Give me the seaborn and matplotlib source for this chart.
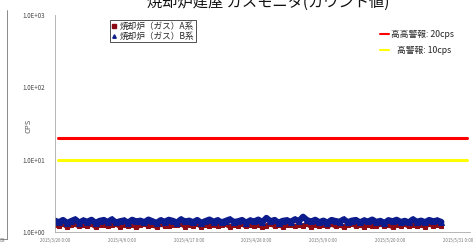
import seaborn as sns
import matplotlib.pyplot as plt
import matplotlib.lines as mlines
import pandas as pd

# データ
title = "焼却炉建屋 ガスモニタ(カウント値)"
series_names = ["焼却炉（ガス）A系", "焼却炉（ガス）B系"]
alarm_names = ["高高警報: 20cps", "   高警報: 10cps"]
alarm_levels = [20, 10]
y_ticks = [1, 10, 100, 1000]
y_tick_labels = ["1.0E+00", "1.0E+01", "1.0E+02", "1.0E+03"]
x_ticks = ["2015-03-26", "2015-04-06", "2015-04-17", "2015-04-28",
           "2015-05-09", "2015-05-20", "2015-05-31"]
x_tick_labels = ["2015/3/26 0:00", "2015/4/6 0:00", "2015/4/17 0:00", "2015/4/28 0:00",
                 "2015/5/9 0:00", "2015/5/20 0:00", "2015/5/31 0:00"]
start = "2015-03-26 00:00"
line_start = "2015-03-26 12:00"
line_end = "2015-06-01 12:00"
end = "2015-06-02 00:00"

cps_a = [1.26, 1.21, 1.30, 1.18, 1.24, 1.28, 1.20, 1.25, 1.22, 1.29, 1.18, 1.25,
         1.27, 1.20, 1.24, 1.29, 1.19, 1.26, 1.22, 1.27, 1.17, 1.24, 1.29, 1.21,
         1.25, 1.18, 1.28, 1.23, 1.20, 1.27, 1.24, 1.30, 1.19, 1.25, 1.22, 1.29,
         1.18, 1.26, 1.22, 1.27, 1.20, 1.24, 1.29, 1.18, 1.25, 1.23, 1.28, 1.20,
         1.25, 1.21, 1.27, 1.17, 1.23, 1.29, 1.22, 1.26, 1.19, 1.24, 1.27, 1.20,
         1.25, 1.22, 1.30, 1.18, 1.27, 1.23, 1.25, 1.20, 1.28, 1.21, 1.26, 1.18,
         1.24, 1.29, 1.22, 1.25, 1.19, 1.27, 1.23, 1.20, 1.29, 1.22, 1.25, 1.18,
         1.27, 1.23, 1.28, 1.20, 1.24, 1.21, 1.26, 1.19, 1.29, 1.22, 1.25, 1.20]
cps_b = [1.44, 1.37, 1.47, 1.34, 1.42, 1.50, 1.35, 1.45, 1.39, 1.48, 1.34, 1.43,
         1.47, 1.38, 1.50, 1.36, 1.41, 1.45, 1.35, 1.48, 1.40, 1.44, 1.37, 1.49,
         1.41, 1.34, 1.46, 1.39, 1.48, 1.43, 1.35, 1.50, 1.40, 1.44, 1.37, 1.47,
         1.34, 1.42, 1.49, 1.39, 1.46, 1.36, 1.43, 1.50, 1.38, 1.41, 1.47, 1.35,
         1.45, 1.40, 1.49, 1.37, 1.57, 1.41, 1.47, 1.35, 1.43, 1.46, 1.39, 1.50,
         1.42, 1.63, 1.46, 1.40, 1.48, 1.37, 1.44, 1.35, 1.47, 1.42, 1.39, 1.50,
         1.37, 1.44, 1.47, 1.36, 1.45, 1.40, 1.49, 1.38, 1.43, 1.34, 1.46, 1.41,
         1.48, 1.38, 1.43, 1.36, 1.50, 1.39, 1.44, 1.37, 1.47, 1.41, 1.45, 1.38]

colors = ["#8b0a14", "#0c1c8c"]
markers = ["s", "^"]
alarm_colors = ["#ff0000", "#ffff00"]

sns.set_style("white")
plt.rcParams["font.family"] = ["Noto Sans CJK JP", "DejaVu Sans"]

fig = plt.figure(figsize=(4.77, 2.43), dpi=100)
ax = fig.add_axes([0.115, 0.045, 0.87, 0.893])

# 測定値
for vals, c, m, lw, ms in zip([cps_a, cps_b], colors, markers, [3.4, 4.4], [3.4, 4.0]):
    df = pd.DataFrame({"t": pd.date_range(start, periods=len(vals), freq="16h"), "cps": vals})
    sns.lineplot(data=df, x="t", y="cps", ax=ax, color=c, marker=m, markersize=ms,
                 markeredgecolor=c, linewidth=lw, legend=False)

# 警報レベル
for lvl, c in zip(alarm_levels, alarm_colors):
    df = pd.DataFrame({"t": [pd.Timestamp(line_start), pd.Timestamp(line_end)],
                       "cps": [lvl, lvl]})
    sns.lineplot(data=df, x="t", y="cps", ax=ax, color=c, linewidth=2.2, legend=False)

ax.set_yscale("log")
ax.set_ylim(1, 1000)
ax.set_yticks(y_ticks)
ax.set_yticklabels(y_tick_labels, fontsize=4.5, color="#444444")
ax.minorticks_off()
ax.set_xlim(pd.Timestamp(start), pd.Timestamp(end))
ax.set_xticks([pd.Timestamp(d) for d in x_ticks])
ax.set_xticklabels(x_tick_labels, fontsize=3.2, color="#777777")
ax.tick_params(axis="both", length=2, width=0.5, color="#999999", pad=2)
ax.tick_params(axis="y", pad=5)
ax.set_xlabel("")
ax.set_ylabel("CPS", fontsize=5.5, color="#555555")
ax.yaxis.set_label_coords(-0.055, 0.49)

for s in ["top", "right"]:
    ax.spines[s].set_visible(False)
for s in ["left", "bottom"]:
    ax.spines[s].set_color("#aaaaaa")
    ax.spines[s].set_linewidth(0.6)
    ax.spines[s].set_linestyle((0, (1, 1)))

h1 = [mlines.Line2D([], [], color=c, marker=m, linestyle="none", markersize=2.5)
      for c, m in zip(colors, markers)]
leg1 = ax.legend(h1, series_names, loc="upper left", bbox_to_anchor=(0.133, 0.977),
                 borderaxespad=0, fontsize=6.2, frameon=True, fancybox=False,
                 edgecolor="#333333", framealpha=1, handlelength=0.6,
                 handletextpad=0.3, borderpad=0.2, labelspacing=0.1)
leg1.get_frame().set_linewidth(0.6)
ax.add_artist(leg1)

h2 = [mlines.Line2D([], [], color=c, linewidth=1.5) for c in alarm_colors]
ax.legend(h2, alarm_names, loc="upper left", bbox_to_anchor=(0.776, 0.949),
          borderaxespad=0, fontsize=6.3, frameon=False, handlelength=1.0,
          handletextpad=0.2, labelspacing=0.8)

# タイトル（上が切れている）
fig.text(0.563, 0.992, title, ha="center", va="center", fontsize=11, color="#111111")

# 左隣のグラフの枠
fig.add_artist(mlines.Line2D([0.015, 0.015], [0.015, 0.96], color="#777777", linewidth=0.6))
fig.add_artist(mlines.Line2D([0.0, 0.015], [0.015, 0.015], color="#777777", linewidth=0.6))
fig.text(0.0, 0.0, "08", fontsize=3.5, color="#777777", va="bottom")

fig.savefig("out.png", dpi=100)
